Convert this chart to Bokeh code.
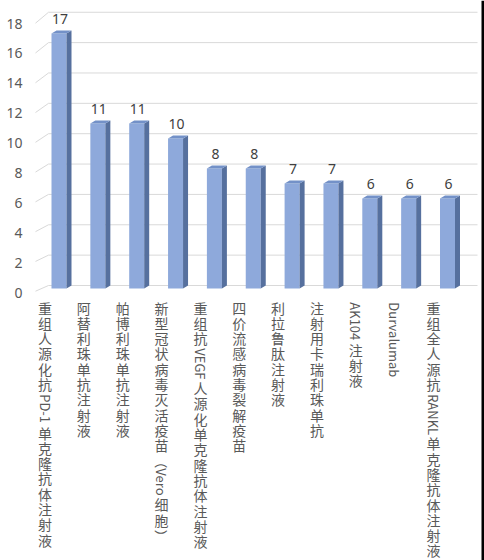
import math
from bokeh.plotting import figure
from bokeh.models import Range1d, LinearAxis, FixedTicker, ColumnDataSource, BoxAnnotation
from bokeh.core.properties import value
from bokeh.embed import file_html
from bokeh.resources import INLINE

# ---------------- data ----------------
categories = [
    "重组人源化抗PD-1单克隆抗体注射液",
    "阿替利珠单抗注射液",
    "帕博利珠单抗注射液",
    "新型冠状病毒灭活疫苗（Vero细胞）",
    "重组抗VEGF人源化单克隆抗体注射液",
    "四价流感病毒裂解疫苗",
    "利拉鲁肽注射液",
    "注射用卡瑞利珠单抗",
    "AK104注射液",
    "Durvalumab",
    "重组全人源抗RANKL单克隆抗体注射液",
]
counts = [17, 11, 11, 10, 8, 8, 7, 7, 6, 6, 6]
y_ticks = [0, 2, 4, 6, 8, 10, 12, 14, 16, 18]

# ---------------- geometry (canvas px) ----------------
W, H = 484, 560
FRAME_LEFT = 30
X_STEP = 38.85     # px per category
X_FIRST = 58.5     # canvas x of first bar's front centre
Y_STEP = 15.0      # px per unit on the front plane
Y_ZERO = 288.0     # canvas y of value 0 on the front plane

FRONT_W = 15.0     # px
DEPTH_X = 5.0      # px
DEPTH_Y = 3.0      # px

FRONT_C = "#8EA9DB"
SIDE_C = "#56709E"
TOP_C = "#7391C8"
GRID_C = "#D9D9D9"
TEXT_C = "#595959"


def rng(zero_px, step):
    return Range1d(start=(zero_px - H) / step, end=zero_px / step)


def xd(px):
    return (px - X_FIRST) / X_STEP


p = figure(width=W, height=H, output_backend="svg", toolbar_location=None,
           x_range=Range1d(xd(FRAME_LEFT), xd(W)), y_range=rng(Y_ZERO, Y_STEP),
           x_axis_type=None, y_axis_type=None,
           min_border_left=FRAME_LEFT, min_border_right=0,
           min_border_top=0, min_border_bottom=0)
p.outline_line_color = None
p.background_fill_color = "white"
p.border_fill_color = "white"

p.extra_y_ranges = {"axis": rng(292.0, 14.94), "back": rng(285.0, 15.18)}

# y axis (tick labels only)
ax = LinearAxis(y_range_name="axis", ticker=FixedTicker(ticks=y_ticks))
ax.axis_line_color = None
ax.major_tick_line_color = None
ax.minor_tick_line_color = None
ax.major_tick_out = 0
ax.major_tick_in = 0
ax.major_label_standoff = 8
ax.major_label_text_font = "Noto Sans"
ax.major_label_text_font_size = "14px"
ax.major_label_text_color = TEXT_C
p.add_layout(ax, "left")

# back-wall gridlines and left wall edges
n = len(y_ticks)
front_back_units = [(285.0 - (290.7 - 14.89 * t)) / 15.18 for t in y_ticks]
p.segment(x0=[xd(48)] * n, y0=y_ticks, x1=[xd(477)] * n, y1=y_ticks,
          y_range_name="back", line_color=GRID_C, line_width=1)
p.segment(x0=[xd(35)] * n, y0=front_back_units, x1=[xd(48)] * n, y1=y_ticks,
          y_range_name="back", line_color=GRID_C, line_width=1)

# 3D bars
fw = FRONT_W / X_STEP
dx = DEPTH_X / X_STEP
dy = DEPTH_Y / Y_STEP
idx = list(range(len(categories)))

side_xs, side_ys, top_xs, top_ys = [], [], [], []
for i, v in zip(idx, counts):
    r = i + fw / 2
    side_xs.append([r, r + dx, r + dx, r])
    side_ys.append([0, dy, v + dy, v])
    top_xs.append([i - fw / 2, r, r + dx, i - fw / 2 + dx])
    top_ys.append([v, v, v + dy, v + dy])

p.vbar(x=idx, width=fw, bottom=0, top=counts, fill_color=FRONT_C, line_color=None)
p.patches(xs=side_xs, ys=side_ys, fill_color=SIDE_C, line_color=None)
p.patches(xs=top_xs, ys=top_ys, fill_color=TOP_C, line_color=None)

# value labels
p.text(x=[i + 1.0 / X_STEP for i in idx], y=[v + 15.0 / Y_STEP for v in counts],
       text=[str(v) for v in counts], text_font=value("Noto Sans"),
       text_font_size="14px", text_color="#404040",
       text_align="center", text_baseline="middle")

# vertical category labels (upright CJK, rotated Latin)
EM = {'P': 0.61, 'D': 0.67, '-': 0.34, '1': 0.55, 'V': 0.55, 'E': 0.55, 'G': 0.67,
      'F': 0.52, 'R': 0.61, 'A': 0.59, 'N': 0.69, 'K': 0.61, 'L': 0.50, '0': 0.55,
      '4': 0.55, 'u': 0.56, 'r': 0.35, 'v': 0.50, 'a': 0.54, 'l': 0.27, 'm': 0.85,
      'b': 0.57, 'e': 0.52, 'o': 0.56, '（': 1.0, '）': 1.0}
FS_LAT = 13
PITCH = 15.3
GAP = 2.5
LABEL_TOP = 19.0 - PITCH / 2
LABEL_DX = -14.0 / X_STEP


def upright(ch):
    return "\u4e00" <= ch <= "\u9fff"


cjk = {"x": [], "y": [], "t": []}
lat = {"x": [], "y": [], "t": []}
for i, lab in enumerate(categories):
    cur = LABEL_TOP
    j = 0
    while j < len(lab):
        ch = lab[j]
        if upright(ch):
            cjk["x"].append(i + LABEL_DX)
            cjk["y"].append(-(cur + PITCH / 2) / Y_STEP)
            cjk["t"].append(ch)
            cur += PITCH
            j += 1
        else:
            k = j
            while k < len(lab) and not upright(lab[k]):
                k += 1
            run = lab[j:k]
            w = sum(EM.get(c, 0.6) for c in run) * FS_LAT
            lat["x"].append(i + LABEL_DX)
            lat["y"].append(-(cur + GAP) / Y_STEP)
            lat["t"].append(run)
            cur += w + 2 * GAP
            j = k

p.text(x="x", y="y", text="t", source=ColumnDataSource(cjk),
       text_font=value("Noto Sans CJK SC"), text_font_size="14px",
       text_color=TEXT_C, text_align="center", text_baseline="middle")
p.text(x="x", y="y", text="t", source=ColumnDataSource(lat), angle=-math.pi / 2,
       text_font=value("Noto Sans CJK SC"), text_font_size=f"{FS_LAT}px",
       text_color=TEXT_C, text_align="left", text_baseline="middle")

# dark edge at the right border
p.add_layout(BoxAnnotation(left=xd(481), fill_color="black", fill_alpha=1.0,
                           line_color=None))

open("out.html", "w").write(file_html(p, INLINE))
